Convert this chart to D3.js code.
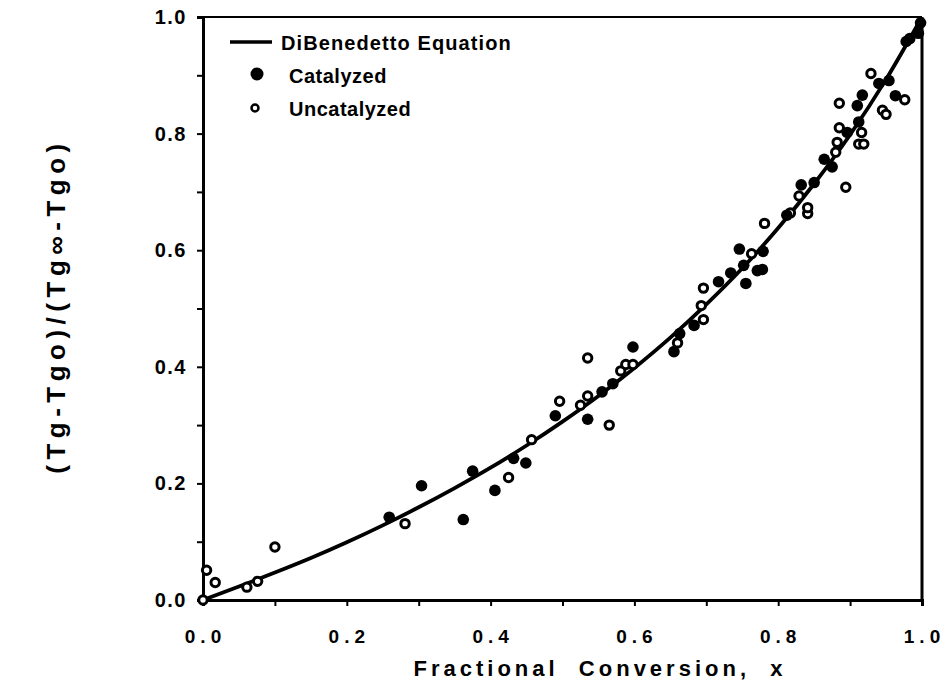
<!DOCTYPE html>
<html>
<head>
    <script src="https://d3js.org/d3.v7.min.js"></script>
    <style>
        body {margin: 0; background: #fff; font-family: "Liberation Sans", Arial, Helvetica, sans-serif;}
        svg {display: block;}
        .lbl {font-weight: bold; fill: #000;}
    </style>
</head>
<body>
    <svg width="945" height="681"></svg>
    <script>
        // DiBenedetto curve
        let curveX = [0, 0.05, 0.1, 0.15, 0.2, 0.25, 0.3, 0.35, 0.4, 0.45, 0.5,
                      0.55, 0.6, 0.65, 0.7, 0.75, 0.8, 0.85, 0.9, 0.95, 1.0];
        let curveY = [0, 0.023, 0.047, 0.072, 0.099, 0.128, 0.159, 0.192, 0.227, 0.265, 0.306,
                      0.350, 0.398, 0.450, 0.507, 0.569, 0.638, 0.714, 0.798, 0.893, 1.0];

        // Catalyzed samples (filled dots)
        let catalyzed = [
            [0.259, 0.142], [0.304, 0.196], [0.362, 0.138], [0.375, 0.221], [0.406, 0.188],
            [0.432, 0.243], [0.449, 0.235], [0.490, 0.316], [0.535, 0.310], [0.555, 0.357],
            [0.570, 0.371], [0.598, 0.434], [0.655, 0.426], [0.663, 0.457], [0.683, 0.471],
            [0.717, 0.546], [0.734, 0.561], [0.746, 0.602], [0.752, 0.574], [0.755, 0.543],
            [0.771, 0.565], [0.778, 0.567], [0.779, 0.598], [0.812, 0.660], [0.832, 0.712],
            [0.850, 0.716], [0.864, 0.756], [0.875, 0.743], [0.896, 0.802], [0.910, 0.848],
            [0.912, 0.820], [0.917, 0.866], [0.940, 0.886], [0.954, 0.891], [0.963, 0.865],
            [0.978, 0.958], [0.983, 0.963], [0.995, 0.972], [0.998, 0.990]
        ];

        // Uncatalyzed samples (open circles)
        let uncatalyzed = [
            [0.0, 0.0], [0.005, 0.051], [0.017, 0.030], [0.061, 0.022], [0.076, 0.032],
            [0.100, 0.091], [0.281, 0.131], [0.425, 0.210], [0.457, 0.275], [0.496, 0.341],
            [0.525, 0.334], [0.535, 0.350], [0.535, 0.415], [0.565, 0.300], [0.581, 0.393],
            [0.588, 0.404], [0.598, 0.404], [0.660, 0.441], [0.693, 0.505], [0.696, 0.481],
            [0.696, 0.535], [0.763, 0.594], [0.781, 0.646], [0.817, 0.664], [0.829, 0.693],
            [0.841, 0.663], [0.841, 0.673], [0.880, 0.768], [0.882, 0.785], [0.885, 0.810],
            [0.885, 0.852], [0.894, 0.708], [0.912, 0.782], [0.916, 0.802], [0.919, 0.782],
            [0.929, 0.903], [0.945, 0.840], [0.950, 0.833], [0.976, 0.858]
        ];

        let minorTicks = d3.range(0, 1.0001, 0.1);
        let labelTicks = [0, 0.2, 0.4, 0.6, 0.8, 1.0];

        let svg = d3.select("svg");
        let x = d3.scaleLinear().domain([0, 1]).range([203, 922]);
        let y = d3.scaleLinear().domain([0, 1]).range([600, 17]);

        // frame: top and right edges
        svg.append("line").attr("x1", x(0)).attr("x2", x(1)).attr("y1", y(1)).attr("y2", y(1))
            .attr("stroke", "#000").attr("stroke-width", 2);
        svg.append("line").attr("x1", x(1)).attr("x2", x(1)).attr("y1", y(1)).attr("y2", y(0))
            .attr("stroke", "#000").attr("stroke-width", 3);

        // axes with ticks at every 0.1, labels added separately
        let xAxis = svg.append("g").attr("transform", "translate(0," + y(0) + ")")
            .call(d3.axisBottom(x).tickValues(minorTicks).tickSize(6).tickFormat(""));
        let yAxis = svg.append("g").attr("transform", "translate(" + x(0) + ",0)")
            .call(d3.axisLeft(y).tickValues(minorTicks).tickSize(6).tickFormat(""));
        [xAxis, yAxis].forEach(g => {
            g.select(".domain").attr("stroke", "#000").attr("stroke-width", 3);
            g.selectAll(".tick line").attr("stroke", "#000").attr("stroke-width", 2);
        });

        svg.selectAll(".xlbl").data(labelTicks).enter().append("text")
            .attr("class", "lbl")
            .attr("x", d => x(d) + 2.5)
            .attr("y", 643)
            .attr("text-anchor", "middle")
            .style("font-size", "19px")
            .style("letter-spacing", "5px")
            .text(d => d.toFixed(1));

        svg.selectAll(".ylbl").data(labelTicks).enter().append("text")
            .attr("class", "lbl")
            .attr("x", 187)
            .attr("y", d => y(d) + 7)
            .attr("text-anchor", "end")
            .style("font-size", "20px")
            .style("letter-spacing", "1.5px")
            .text(d => d.toFixed(1));

        // axis titles
        svg.append("text").attr("class", "lbl")
            .attr("x", 600).attr("y", 676)
            .attr("text-anchor", "middle")
            .style("font-size", "22px")
            .style("letter-spacing", "4px")
            .style("white-space", "pre")
            .text("Fractional  Conversion,  x");

        svg.append("text").attr("class", "lbl")
            .attr("transform", "translate(65,306) rotate(-90)")
            .attr("text-anchor", "middle")
            .style("font-size", "26px")
            .style("letter-spacing", "5.5px")
            .text("(Tg-Tgo)/(Tg\u221e-Tgo)");

        // curve
        let line = d3.line()
            .x((d, i) => x(curveX[i]))
            .y(d => y(d))
            .curve(d3.curveMonotoneX);
        svg.append("path").datum(curveY)
            .attr("d", line)
            .attr("fill", "none")
            .attr("stroke", "#000")
            .attr("stroke-width", 3.8);

        // points
        svg.selectAll(".open").data(uncatalyzed).enter().append("circle")
            .attr("cx", d => x(d[0])).attr("cy", d => y(d[1]))
            .attr("r", 4.2)
            .attr("fill", "#fff").attr("stroke", "#000").attr("stroke-width", 3);

        svg.selectAll(".filled").data(catalyzed).enter().append("circle")
            .attr("cx", d => x(d[0])).attr("cy", d => y(d[1]))
            .attr("r", 5.8)
            .attr("fill", "#000");

        // legend
        let legend = svg.append("g");
        legend.append("line").attr("x1", 230).attr("x2", 272).attr("y1", 42).attr("y2", 42)
            .attr("stroke", "#000").attr("stroke-width", 3.5);
        legend.append("circle").attr("cx", 257).attr("cy", 74).attr("r", 6.5).attr("fill", "#000");
        legend.append("circle").attr("cx", 255).attr("cy", 108).attr("r", 3.5)
            .attr("fill", "#fff").attr("stroke", "#000").attr("stroke-width", 2.5);

        let legendText = ["DiBenedetto Equation", "Catalyzed", "Uncatalyzed"];
        let legendPos = [[281, 50], [289, 83], [289, 116]];
        legend.selectAll("text").data(legendText).enter().append("text")
            .attr("class", "lbl")
            .attr("x", (d, i) => legendPos[i][0])
            .attr("y", (d, i) => legendPos[i][1])
            .style("font-size", "20px")
            .style("letter-spacing", (d, i) => i === 0 ? "1.1px" : "0.5px")
            .text(d => d);
    </script>
</body>
</html>
